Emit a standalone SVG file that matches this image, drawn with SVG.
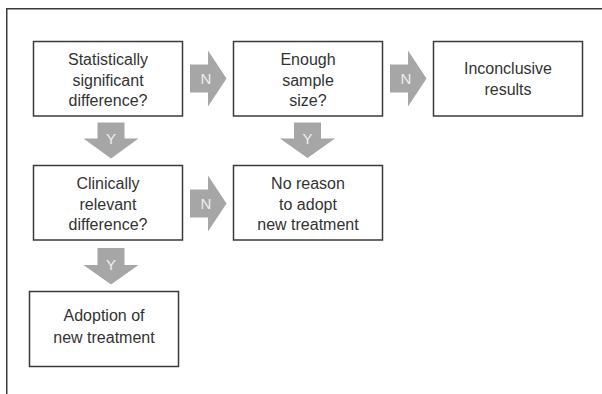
<svg xmlns="http://www.w3.org/2000/svg" width="602" height="394" viewBox="0 0 602 394">
<style>
.box{fill:#fff;stroke:#3a3a3a;stroke-width:1.5}
.t{font-family:"Liberation Sans",Arial,sans-serif;font-size:16px;fill:#333;text-anchor:middle}
.arr{fill:#a6a6a6}
.lab{font-family:"Liberation Sans",Arial,sans-serif;font-size:15px;fill:#eeeeee;text-anchor:middle}
.frame{fill:none;stroke:#3a3a3a;stroke-width:1.5}
</style>
<rect width="602" height="394" fill="#fff"/>
<path class="frame" d="M6.75,394 V8.75 H602"/>
<g id="connectors">
<g id="n1"><path class="arr" d="M190,64.5 H208 V50.5 L226.5,78.5 L208,106.5 V92.5 H190 Z"/><text class="lab" x="206" y="84">N</text></g>
<g id="n2"><path class="arr" d="M390,64.5 H408 V50.5 L426.5,78.5 L408,106.5 V92.5 H390 Z"/><text class="lab" x="406" y="84">N</text></g>
<g id="n3"><path class="arr" d="M190,189.5 H208 V175.5 L226.5,203.5 L208,231.5 V217.5 H190 Z"/><text class="lab" x="206" y="209">N</text></g>
<g id="y1"><path class="arr" d="M97.5,122.5 H124.5 V138.5 H138.5 L111,158.5 L83.5,138.5 H97.5 Z"/><text class="lab" x="111" y="144">Y</text></g>
<g id="y2"><path class="arr" d="M294,122.5 H321 V138.5 H335 L307.5,158 L280,138.5 H294 Z"/><text class="lab" x="307.5" y="144">Y</text></g>
<g id="y3"><path class="arr" d="M97.5,248 H124.5 V265 H138.5 L111,284.5 L83.5,265 H97.5 Z"/><text class="lab" x="111" y="270">Y</text></g>
</g>
<g id="stat">
<rect class="box" x="33.5" y="41.5" width="149" height="74.5"/>
<text class="t" x="108" y="65">Statistically</text>
<text class="t" x="108" y="85.5">significant</text>
<text class="t" x="108" y="106">difference?</text>
</g>
<g id="enough">
<rect class="box" x="233.5" y="41.5" width="149" height="74.5"/>
<text class="t" x="308" y="65">Enough</text>
<text class="t" x="308" y="85.5">sample</text>
<text class="t" x="308" y="106">size?</text>
</g>
<g id="inconclusive">
<rect class="box" x="433.5" y="41.5" width="149" height="74.5"/>
<text class="t" x="508" y="73.5">Inconclusive</text>
<text class="t" x="508" y="95">results</text>
</g>
<g id="clinical">
<rect class="box" x="33.5" y="165.5" width="149" height="74.5"/>
<text class="t" x="108" y="188.5">Clinically</text>
<text class="t" x="108" y="209.5">relevant</text>
<text class="t" x="108" y="230">difference?</text>
</g>
<g id="noreason">
<rect class="box" x="233.5" y="165.5" width="149" height="74.5"/>
<text class="t" x="308" y="188.5">No reason</text>
<text class="t" x="308" y="209.5">to adopt</text>
<text class="t" x="308" y="230">new treatment</text>
</g>
<g id="adoption">
<rect class="box" x="29.5" y="291.5" width="149" height="75"/>
<text class="t" x="104" y="320.5">Adoption of</text>
<text class="t" x="104" y="342.5">new treatment</text>
</g>
</svg>
